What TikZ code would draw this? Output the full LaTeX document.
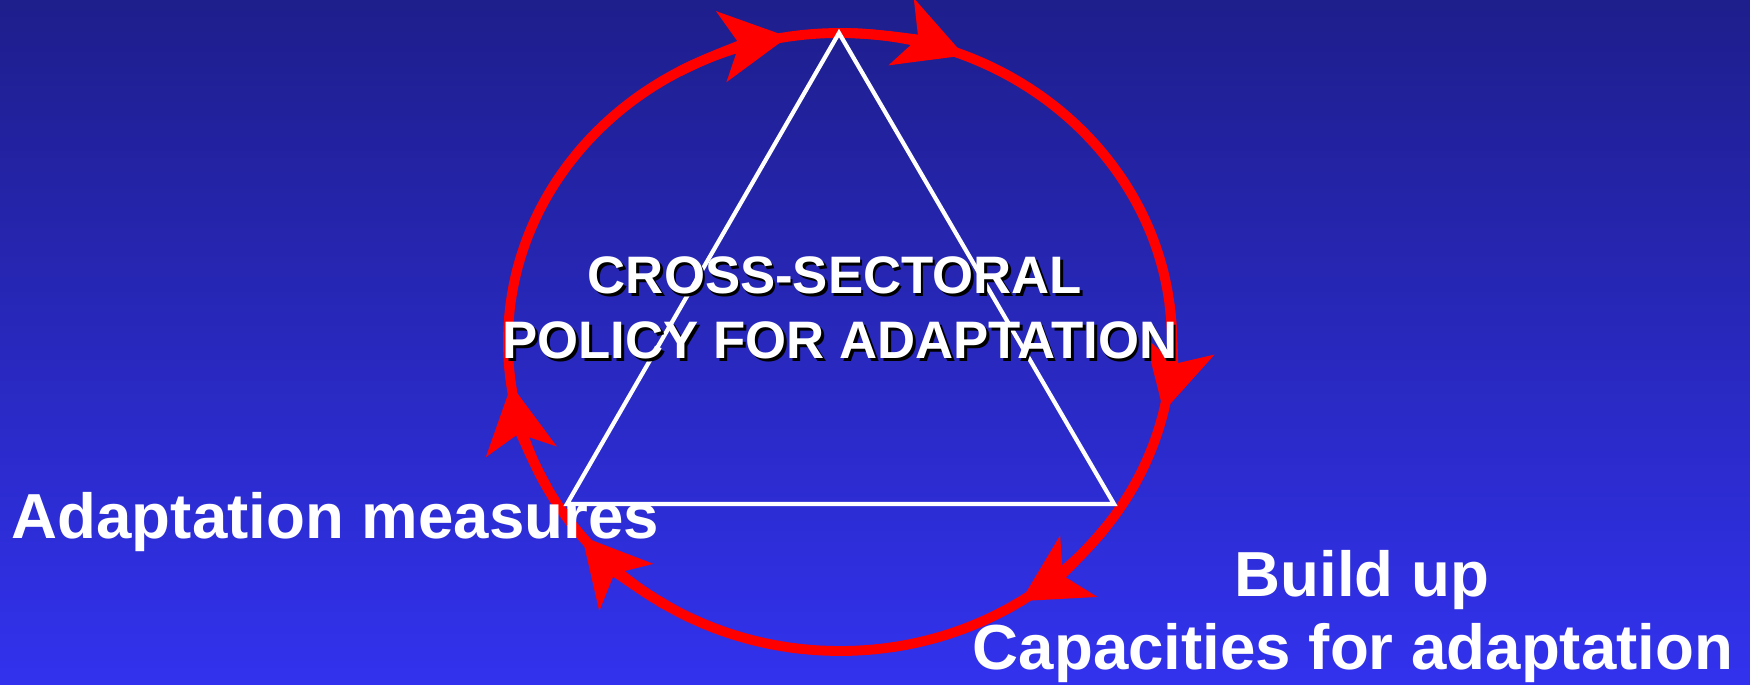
\documentclass[tikz,border=0pt]{standalone}
\usepackage{fontspec}
\setmainfont{Liberation Sans}
\usetikzlibrary{arrows.meta}
\definecolor{bg_top}{RGB}{30,30,140}
\definecolor{bg_bottom}{RGB}{50,50,238}
\begin{document}
\begin{tikzpicture}[x=0.01cm, y=0.01cm]
	\tikzstyle{cycle_line} = [draw=red, line width=2.8pt]
	\tikzstyle{cycle_tip} = [cycle_line, -{Stealth[length=19pt, width=20pt, inset=5pt]}]
	\tikzstyle{side_label} = [text=white, inner sep=0pt, font=\fontsize{18.1}{21}\selectfont\bfseries]
	\tikzstyle{policy_label} = [text=white, inner sep=0pt, font=\fontsize{15}{18}\selectfont\bfseries, anchor=base]
	\tikzstyle{policy_shadow} = [policy_label, text=black]

%------------------------------------------------------------
	\useasboundingbox (0,0) rectangle (1750,685);
	\shade[top color=bg_top, bottom color=bg_bottom] (0,0) rectangle (1750,685);

	\coordinate (ctr) at (840,343);
	\coordinate (t0) at (839,652);
	\coordinate (t1) at (567,181);
	\coordinate (t2) at (1114,181);

%------------------------------------------------------------

	\draw[cycle_line] (ctr) ellipse [x radius=332, y radius=309];
	\foreach \a in {99,68,-13,-57,-141,188}
		\draw[cycle_tip] (ctr) ++(\a+20:332 and 309) arc[start angle=\a+20, end angle=\a, x radius=332, y radius=309];
	\draw[white, line width=1.2pt] (t0) -- (t1) -- (t2) -- cycle;

%------------------------------------------------------------

	\node[policy_shadow] (cross_s) at (837.5,388.5) {CROSS-SECTORAL};
	\node[policy_label] (cross) at (835,391) {CROSS-SECTORAL};
	\node[policy_shadow] (policy_s) at (842.5,323.5) {POLICY FOR ADAPTATION};
	\node[policy_label] (policy) at (840,326) {POLICY FOR ADAPTATION};

%------------------------------------------------------------

	\node[side_label, anchor=base west] (measures) at (11,146) {Adaptation measures};
	\node[side_label, anchor=base] (build) at (1362,88) {Build up};
	\node[side_label, anchor=base] (capacities) at (1353,15) {Capacities for adaptation};

\end{tikzpicture}
\end{document}
